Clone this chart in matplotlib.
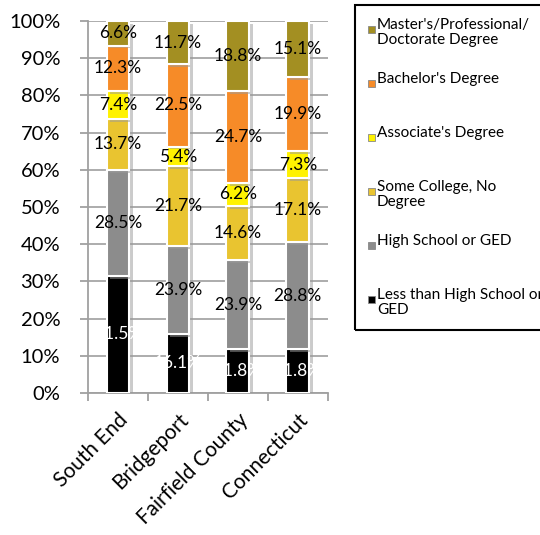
import matplotlib.pyplot as plt
import matplotlib.patheffects as pe
from matplotlib.patches import Rectangle
import numpy as np

plt.rcParams['font.family'] = ['Lato', 'DejaVu Sans']

places = ["South End", "Bridgeport", "Fairfield County", "Connecticut"]

# bottom to top of each stack
levels = ["Less than High School or\nGED", "High School or GED",
          "Some College, No\nDegree", "Associate's Degree",
          "Bachelor's Degree", "Master's/Professional/\nDoctorate Degree"]
colors = ["#000000", "#8c8c8c", "#e9c430", "#fff200", "#f68b28", "#a38f22"]
text_colors = ["white", "black", "black", "black", "black", "black"]

less_hs = [31.5, 16.1, 11.8, 11.8]
high_school = [28.5, 23.9, 23.9, 28.8]
some_college = [13.7, 21.7, 14.6, 17.1]
associate = [7.4, 5.4, 6.2, 7.3]
bachelor = [12.3, 22.5, 24.7, 19.9]
master = [6.6, 11.7, 18.8, 15.1]

series = [less_hs, high_school, some_college, associate, bachelor, master]

vals = np.array(series)
shares = vals / vals.sum(axis=0) * 100  # 100% stacked

fig = plt.figure(figsize=(5.4, 5.35), dpi=100)
ax = fig.add_axes([0.163, 0.2654, 0.444, 0.6953])

x = np.arange(len(places))
shadow = [pe.SimplePatchShadow(offset=(2.5, -2), shadow_rgbFace='#999999', alpha=0.5), pe.Normal()]
bottom = np.zeros(len(places))
for i in range(len(series)):
    bars = ax.bar(x, shares[i], 0.38, bottom=bottom, color=colors[i],
                  edgecolor='white', linewidth=1.5, zorder=3)
    for b in bars:
        b.set_path_effects(shadow)
    for j in range(len(places)):
        ax.text(x[j], bottom[j] + shares[i][j] / 2, "%.1f%%" % vals[i][j],
                ha='center', va='center', fontsize=12.5,
                color=text_colors[i], zorder=5)
    bottom += shares[i]

ax.set_xlim(-0.5, 3.5)
ax.set_ylim(0, 100)
ax.set_yticks(np.arange(0, 101, 10))
ax.set_yticklabels(["%d%%" % v for v in range(0, 101, 10)], fontsize=14.5)
ax.set_xticks(x)
ax.set_xticklabels(places, fontsize=15, rotation=45, ha='right',
                   rotation_mode='anchor')
ax.set_xticks(np.arange(-0.5, 4, 1), minor=True)
ax.tick_params(axis='x', which='major', length=0, pad=12)
ax.tick_params(axis='x', which='minor', length=6, color='#a0a0a0', width=1.3)
ax.tick_params(axis='y', length=6, color='#a0a0a0', width=1.3, pad=14)
ax.grid(axis='y', color='#a6a6a6', linewidth=1.3, zorder=0)
for s in ['top', 'right']:
    ax.spines[s].set_visible(False)
for s in ['left', 'bottom']:
    ax.spines[s].set_color('#a0a0a0')
    ax.spines[s].set_linewidth(1.3)

# legend box on the right, entries top to bottom
W, H = 540.0, 535.0
fig.patches.append(Rectangle((355 / W, 1 - 330 / H), 200 / W, 325 / H,
                             transform=fig.transFigure, fill=False,
                             edgecolor='black', linewidth=1.5))
for k, i in enumerate(range(len(series) - 1, -1, -1)):
    top = 22 + 54 * k
    fig.patches.append(Rectangle((368 / W, 1 - (top + 11) / H), 7 / W, 7 / H,
                                 transform=fig.transFigure, facecolor=colors[i],
                                 edgecolor='#888888', linewidth=0.6))
    fig.text(377 / W, 1 - (top - 4) / H, levels[i], fontsize=11,
             va='top', ha='left', linespacing=1.05)

fig.savefig("out.png", dpi=100)
